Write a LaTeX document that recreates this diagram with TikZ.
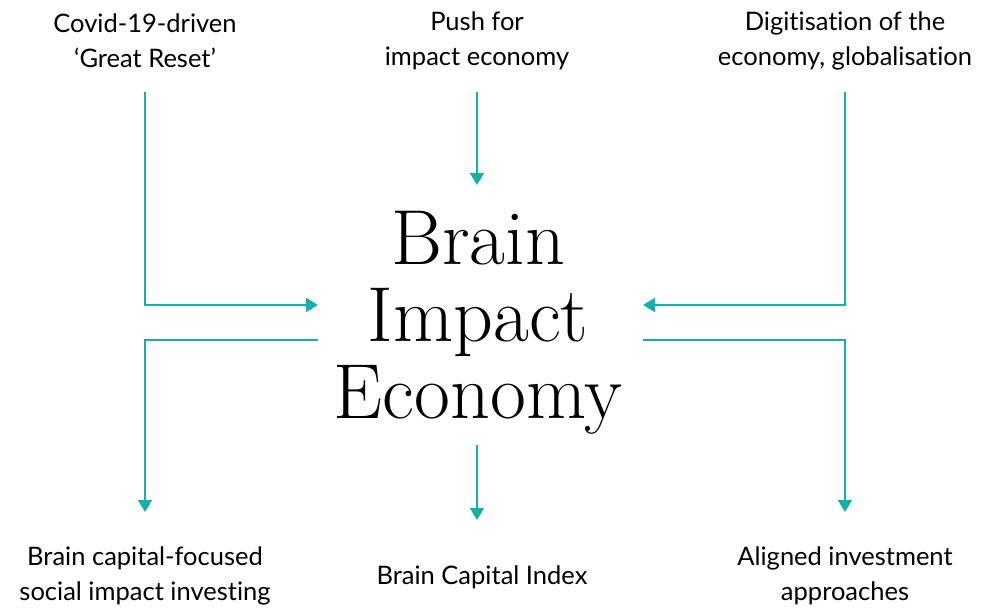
\documentclass[tikz,border=0pt]{standalone}
\usepackage{fontspec}
\setmainfont{Lato}[Ligatures={NoCommon}]
\usetikzlibrary{arrows.meta}
\definecolor{teal1}{RGB}{22,176,170}
\newfontfamily\titlefont{Latin Modern Roman}
\tikzset{
  lbl/.style={font=\fontsize{25.5}{35}\selectfont, align=center, text=black, inner sep=0pt},
  conn/.style={draw=teal1, line width=1.8pt, -{Triangle[length=12pt,width=14pt]}},
  title/.style={font=\titlefont\fontsize{78}{77}\selectfont, align=center, inner sep=0pt}
}
\begin{document}
\begin{tikzpicture}[x=1pt,y=-1pt]
\useasboundingbox (0,0) rectangle (988,610);
% top labels
\node[lbl] (tl) at (145,41) {Covid-19-driven\\‘Great Reset’};
\node[lbl] (tm) at (477,41) {Push for\\impact economy};
\node[lbl] (tr) at (845,41) {Digitisation of the\\economy, globalisation};
% bottom labels
\node[lbl] (bl) at (145,576) {Brain capital-focused\\social impact investing};
\node[lbl] (bm) at (482,577) {Brain Capital Index};
\node[lbl] (br) at (845,576) {Aligned investment\\approaches};
% title
\node[title] (c) at (478,323) {Brain\\Impact\\Economy};
% anchor coordinates
\coordinate (tlS) at (145,92);
\coordinate (tmS) at (477,92);
\coordinate (trS) at (845,92);
\coordinate (inL) at (318,305);
\coordinate (inR) at (643,305);
\coordinate (inT) at (477,185);
\coordinate (outL) at (318,340);
\coordinate (outR) at (643,340);
\coordinate (outB) at (477,445);
\coordinate (blE) at (145,512);
\coordinate (bmE) at (477,520);
\coordinate (brE) at (845,512);
\draw[conn] (tlS) |- (inL);
\draw[conn] (tmS) -- (inT);
\draw[conn] (trS) |- (inR);
\draw[conn] (outL) -| (blE);
\draw[conn] (outB) -- (bmE);
\draw[conn] (outR) -| (brE);
\end{tikzpicture}
\end{document}
